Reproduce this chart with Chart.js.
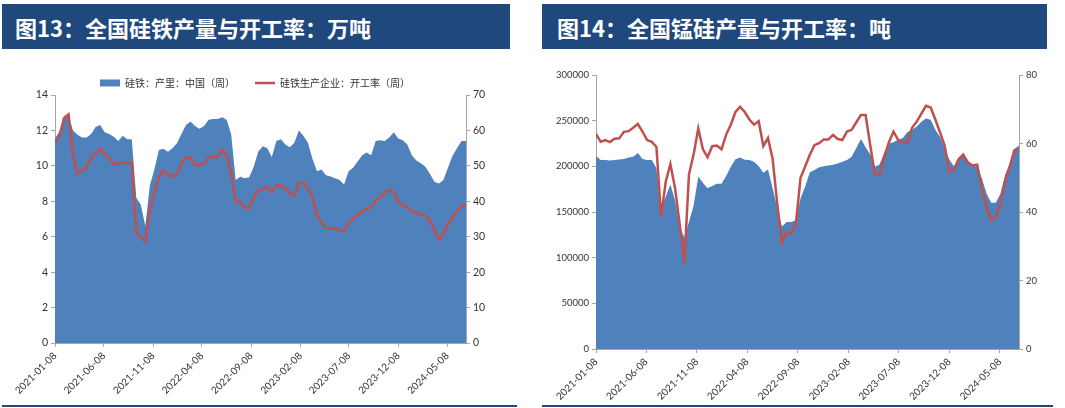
<!DOCTYPE html>
<html>
<head>
<meta charset="utf-8">
<script src="https://cdn.jsdelivr.net/npm/chart.js@4.4.1/dist/chart.umd.min.js"></script>
<style>
  body { margin: 0; background: #fff; width: 1065px; height: 408px; position: relative; overflow: hidden; font-family: "Noto Sans CJK SC", sans-serif; }
  .bar { position: absolute; top: 4px; height: 45px; background: #1F497D; color: #fff; font-weight: bold; font-size: 22px; line-height: 45px; padding: 1px 0 0 13px; box-sizing: border-box; white-space: nowrap; }
  .rule { position: absolute; top: 405px; height: 2px; background: #1F497D; }
  canvas { position: absolute; top: 50px; }
</style>
</head>
<body>
<div class="bar" style="left:2px;width:508px">图13：全国硅铁产量与开工率：万吨</div>
<div class="bar" style="left:542px;width:505px;padding-left:15px">图14：全国锰硅产量与开工率：吨</div>
<div class="rule" style="left:2px;width:515px"></div>
<div class="rule" style="left:542px;width:511px"></div>
<canvas id="feChart" width="510" height="355" style="left:0"></canvas>
<canvas id="mnChart" width="525" height="355" style="left:535px"></canvas>
<script>
// weekly data, one reading every two weeks starting 2021-01-08
const startDate = '2021-01-08';
const stepDays = 14;
const tickLabels = ['2021-01-08', '2021-06-08', '2021-11-08', '2022-04-08', '2022-09-08',
                    '2023-02-08', '2023-07-08', '2023-12-08', '2024-05-08'];

// 硅铁 产量 (万吨) and 开工率 (%)
const feOutput = [
  11.55, 11.95, 12.65, 12.8, 12.0, 11.75, 11.6, 11.6, 11.8, 12.2,
  12.3, 11.9, 11.8, 11.65, 11.4, 11.7, 11.5, 11.5, 8.2, 7.8,
  6.6, 8.9, 9.8, 10.9, 10.97, 10.8, 11.0, 11.27, 11.8, 12.3,
  12.5, 12.25, 12.1, 12.25, 12.6, 12.65, 12.65, 12.75, 12.6, 11.8,
  9.2, 9.38, 9.3, 9.35, 9.95, 10.8, 11.1, 11.0, 10.5, 11.4,
  11.5, 11.2, 11.05, 11.3, 12.0, 11.7, 11.3, 10.4, 9.7, 9.8,
  9.47, 9.4, 9.3, 9.2, 8.95, 9.7, 9.9, 10.25, 10.6, 10.75,
  10.6, 11.4, 11.45, 11.4, 11.6, 11.9, 11.55, 11.45, 11.2, 10.6,
  10.3, 10.15, 9.95, 9.55, 9.1, 9.0, 9.2, 9.9, 10.55, 11.0,
  11.4, 11.4
];
const feRate = [
  56.8, 58.5, 63.5, 64.5, 53, 48.0, 48.8, 49.5, 52.3, 53.6,
  54.8, 53.4, 52.2, 50.6, 50.5, 51.0, 50.9, 50.8, 31, 29.8,
  28.7, 37.5, 42.4, 47.0, 48.7, 47.5, 47.0, 47.8, 50.5, 52.3,
  52.3, 50.3, 50.1, 50.7, 52.4, 52.8, 52.4, 54.4, 53.1, 48,
  40, 39.8, 38.2, 38.0, 41.3, 43.0, 43.6, 44.1, 42.5, 44.5,
  44.4, 43.8, 42.2, 41.5, 45.1, 45.4, 43.5, 41.3, 36.2, 33.9,
  32.3, 32.3, 32.3, 31.8, 31.5, 34.0, 35.0, 36.3, 37.0, 37.9,
  38.4, 40.2, 41.2, 42.4, 43.2, 42.5, 39.8, 39.0, 38.3, 37.2,
  36.7, 36.3, 36.0, 34.5, 32.0, 29.2, 30.8, 33.6, 35.4, 37.2,
  38.8, 38.5
];

// 硅锰 产量 (吨) and 开工率 (%)
const mnOutput = [
  211300, 207000, 207000, 206500, 207000, 207500, 208000, 209800, 210500, 214500,
  208000, 206900, 206900, 198000, 152000, 166600, 180000, 163000, 134000, 122000,
  139000, 157000, 188600, 182000, 176000, 178500, 181000, 181000, 189500, 199500,
  207800, 209800, 207300, 206900, 205000, 200000, 193000, 196400, 176000, 154000,
  134000, 139000, 139000, 141000, 165000, 178000, 193500, 196000, 199000, 200000,
  201000, 201600, 203000, 205000, 206900, 210600, 220000, 230000, 221000, 213000,
  199600, 202000, 215000, 225000, 226500, 229000, 231000, 237500, 240000, 243500,
  248800, 252500, 251000, 240000, 232500, 220000, 207500, 200000, 209000, 212400,
  205000, 201000, 199600, 187000, 170500, 160000, 160000, 170000, 190500, 203000,
  219000, 222700
];
const mnRate = [
  62.8, 60.5, 61.0, 60.4, 61.4, 61.5, 63.4, 63.6, 64.6, 65.7,
  63.5, 61.0, 60.5, 59.0, 38.6, 48.8, 54, 47, 36.5, 25,
  51, 56.8, 64.4, 58.3, 56.0, 59.2, 59.4, 58.3, 62.6, 65.5,
  69.2, 70.7, 69.2, 67.0, 65.5, 66.5, 59.2, 61.6, 55.5, 42.3,
  31, 34.0, 33.7, 36.5, 50, 53.3, 56.7, 59.5, 60.1, 61.2,
  61.2, 62.5, 61.3, 61, 63.5, 64.0, 66.2, 68.3, 68.3, 59.5,
  50.8, 51, 56, 60.3, 63.5, 61, 60.3, 60.2, 64.6, 66.4,
  68.7, 71, 70.5, 67, 63.3, 59.4, 51.8, 52.2, 55.4, 56.8,
  54.5, 53.6, 53.8, 47, 41.5, 37.6, 38.4, 42.5, 49, 53.2,
  58, 58.3
];

const BLUE = '#4F81BD';
const RED = '#C0504D';
const AXIS = '#A6A6A6';
const TEXT = '#333333';
const NUM_FONT = 'Lato, "Noto Sans CJK SC", sans-serif';
const CJK_FONT = '"Noto Sans CJK SC", sans-serif';

const dayOf = s => (Date.parse(s) - Date.parse(startDate)) / 864e5;
const toPoints = arr => arr.map((v, i) => ({ x: i * stepDays, y: v }));

function makeChart(id, cfg) {
  const ctx = document.getElementById(id).getContext('2d');
  return new Chart(ctx, {
    type: 'line',
    data: {
      datasets: [{
        label: cfg.areaLabel,
        data: toPoints(cfg.area),
        yAxisID: 'y',
        fill: 'origin',
        backgroundColor: BLUE,
        borderColor: BLUE,
        borderWidth: 0,
        pointRadius: 0,
        pointStyle: 'rect',
        order: 2
      }, {
        label: cfg.lineLabel,
        data: toPoints(cfg.line),
        yAxisID: 'y1',
        fill: false,
        borderColor: RED,
        backgroundColor: RED,
        borderWidth: 2.5,
        pointBorderWidth: 2.5,
        pointRadius: 0,
        pointStyle: 'line',
        order: 1
      }]
    },
    options: {
      responsive: false,
      animation: false,
      layout: { padding: { top: 8, left: 0, right: 0, bottom: 0 } },
      plugins: {
        tooltip: { enabled: false },
        legend: {
          position: 'top',
          maxHeight: cfg.legendHeight,
          labels: {
            usePointStyle: true,
            pointStyleWidth: 20,
            boxHeight: 7,
            padding: 20,
            color: TEXT,
            font: { family: CJK_FONT, size: 10 },
            sort: (a, b) => a.datasetIndex - b.datasetIndex
          }
        }
      },
      scales: {
        x: {
          type: 'linear',
          min: 0,
          max: 1274,
          afterBuildTicks: s => { s.ticks = tickLabels.map(t => ({ value: dayOf(t) })); },
          afterFit: s => { s.height = cfg.xHeight; },
          ticks: {
            autoSkip: false,
            minRotation: 45,
            maxRotation: 45,
            color: TEXT,
            font: { family: NUM_FONT, size: 10 },
            callback: (v, i) => tickLabels[i]
          },
          grid: { display: true, drawOnChartArea: false, tickLength: 4, color: AXIS },
          border: { color: AXIS }
        },
        y: {
          position: 'left',
          min: 0,
          max: cfg.yMax,
          afterFit: s => { s.width = cfg.yWidth; },
          ticks: { stepSize: cfg.yStep, color: TEXT, font: { family: NUM_FONT, size: cfg.tickSize }, callback: v => String(v) },
          grid: { display: true, drawOnChartArea: false, tickLength: 4, color: AXIS },
          border: { color: AXIS }
        },
        y1: {
          position: 'right',
          min: 0,
          max: cfg.y1Max,
          afterFit: s => { s.width = cfg.y1Width; },
          ticks: { stepSize: cfg.y1Step, color: TEXT, font: { family: NUM_FONT, size: cfg.tickSize }, callback: v => String(v) },
          grid: { display: true, drawOnChartArea: false, tickLength: 4, color: AXIS },
          border: { color: AXIS }
        }
      }
    }
  });
}

document.addEventListener('DOMContentLoaded', function () {
  makeChart('feChart', {
    area: feOutput, line: feRate,
    areaLabel: '硅铁：产里：中国（周）',
    lineLabel: '硅铁生产企业：开工率（周）',
    yMax: 14, yStep: 2, y1Max: 70, y1Step: 10,
    yWidth: 55, y1Width: 44, xHeight: 62, legendHeight: 37, tickSize: 10.5
  });
  makeChart('mnChart', {
    area: mnOutput, line: mnRate,
    areaLabel: '硅锰：产量：中国（周）',
    lineLabel: '硅锰企业：开工率：中国（周）',
    yMax: 300000, yStep: 50000, y1Max: 80, y1Step: 20,
    yWidth: 61, y1Width: 41, xHeight: 56, legendHeight: 17, tickSize: 9.5
  });
});
</script>
</body>
</html>
